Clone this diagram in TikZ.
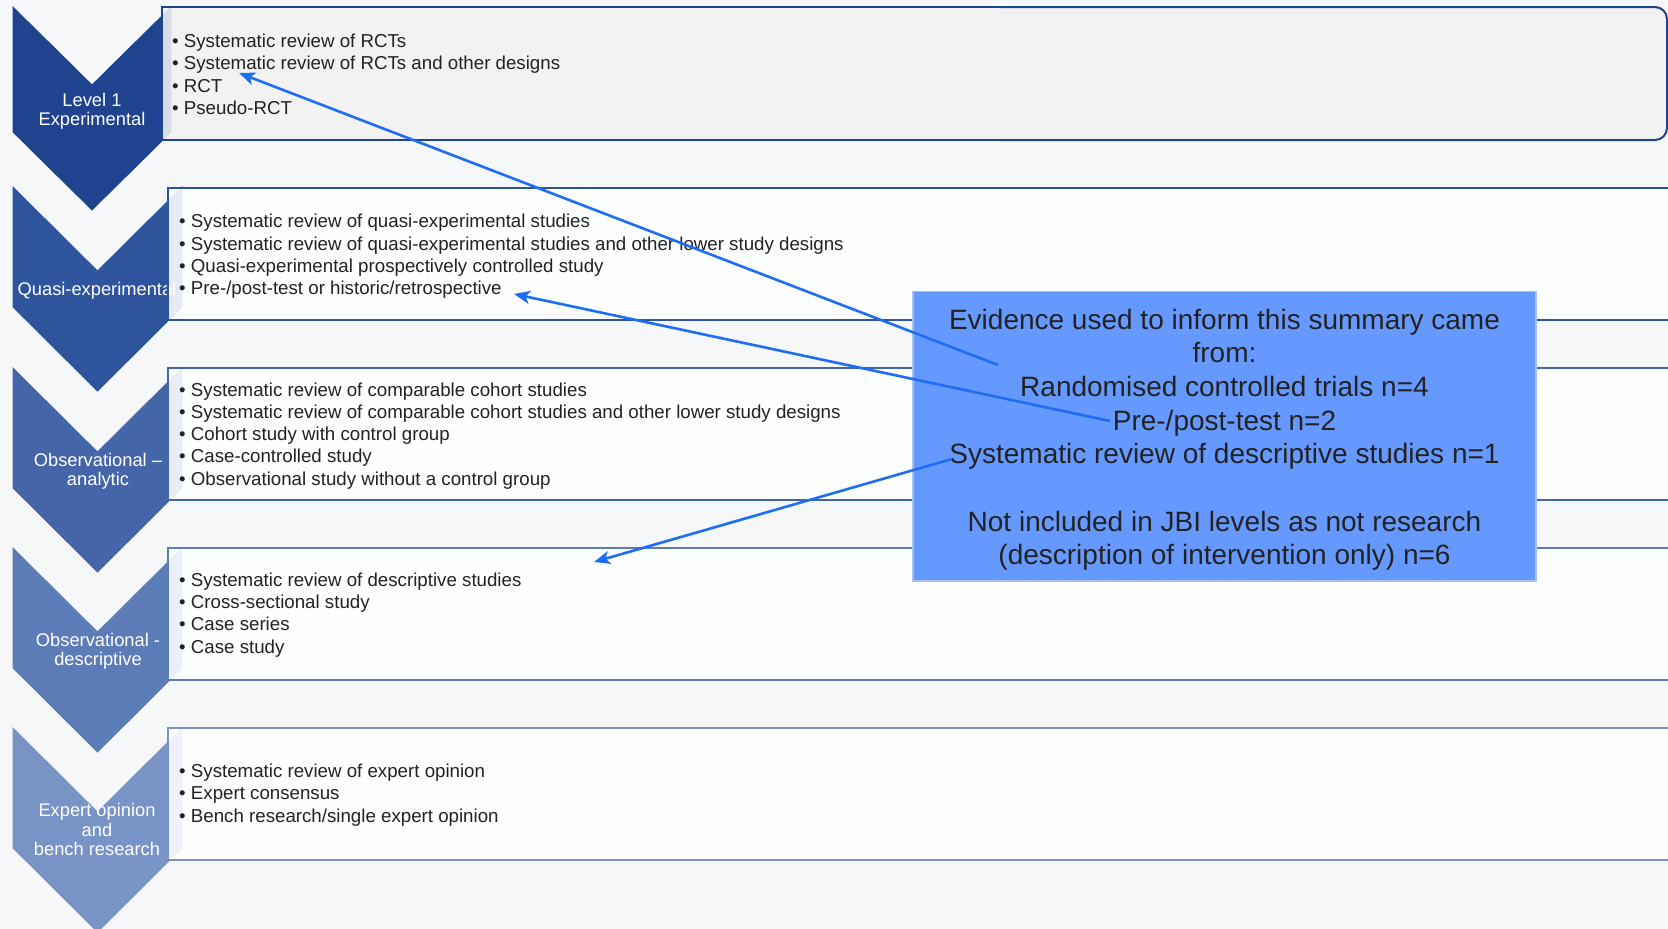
\documentclass[tikz,border=0pt]{standalone}
\usepackage{fontspec}
\setmainfont{Liberation Sans}
\usetikzlibrary{arrows.meta}
\definecolor{bg}{HTML}{F5F7F8}
\definecolor{cA}{HTML}{1F438F}
\definecolor{cB}{HTML}{2E549E}
\definecolor{cC}{HTML}{4466A8}
\definecolor{cD}{HTML}{5C7CB7}
\definecolor{cE}{HTML}{7893C5}
\definecolor{evblue}{HTML}{6699FF}
\definecolor{evedge}{HTML}{A9BFE6}
\definecolor{arrowblue}{HTML}{1E6EF5}
\definecolor{txt}{HTML}{222222}
\definecolor{boxonefill}{HTML}{F2F2F2}
\tikzset{
  chev/.style={fill=#1, draw=#1, line width=0.8pt, line join=miter},
  lvlbox/.style={draw=#1, line width=2pt},
  lbl/.style={text=white, align=center, font=\fontsize{18.3}{19.2}\selectfont, inner sep=0pt},
  items/.style={text=txt, align=left, anchor=west, font=\fontsize{18.7}{22.3}\selectfont, inner sep=0pt},
  evbox/.style={draw=evedge, fill=evblue, line width=1.5pt, inner sep=0pt,
    minimum width=623pt, minimum height=289.5pt},
  evtext/.style={text=txt, align=center, font=\fontsize{28}{33.7}\selectfont, inner sep=0pt},
  link/.style={draw=arrowblue, line width=2.6pt, -{Stealth[length=16pt,width=13pt,inset=4pt]}},
}
\begin{document}
\begin{tikzpicture}[x=1pt,y=-1pt]
\useasboundingbox (0,0) rectangle (1668,929);
\clip (0,0) rectangle (1668,929);
\fill[bg] (0,0) rectangle (1668,929);

% chevrons
\fill[chev=cA] (13,7) -- (92,85) -- (171,7) -- (171,132) -- (92,210) -- (13,132) -- cycle;
\foreach \yt/\c in {187/cB, 368/cC, 548/cD, 728/cE}{
  \fill[chev=\c] (13,\yt) -- (97.5,\yt+84) -- (182,\yt) -- (182,\yt+120) -- (97.5,\yt+204) -- (13,\yt+120) -- cycle;
}

% chevron labels
\node[lbl] (l1) at (92,111) {Level 1\\Experimental};
\node[lbl] (l2) at (97,291) {Quasi-experimental};
\node[lbl] (l3) at (98,471) {Observational –\\analytic};
\node[lbl] (l4) at (98,651) {Observational -\\descriptive};
\node[lbl] (l5) at (97,829.5) {Expert opinion\\and\\bench research};

% level boxes
\fill[boxonefill, fill opacity=0.88] (162,7) rectangle (1650,140);
\fill[boxonefill, rounded corners=12pt] (1640,7) rectangle (1667,140);
\draw[lvlbox=cA] (1000,7) -- (162,7) -- (162,140) -- (1000,140);
\draw[lvlbox=cA, rounded corners=12pt] (1000,7) -- (1667,7) -- (1667,140) -- (1000,140);
\foreach \yt/\c in {188/cB, 368/cC, 548/cD, 728/cE}{
  \fill[white, fill opacity=0.88] (168,\yt) rectangle (1700,\yt+132);
  \draw[lvlbox=\c] (168,\yt) rectangle (1700,\yt+132);
}

% box texts
\node[items] (t1) at (172,74.3) {• Systematic review of RCTs\\• Systematic review of RCTs and other designs\\• RCT\\• Pseudo-RCT};
\node[items] (t2) at (179,256.5) {• Systematic review of quasi-experimental studies\\• Systematic review of quasi-experimental studies and other lower study designs\\• Quasi-experimental prospectively controlled study\\• Pre-/post-test or historic/retrospective};
\node[items] (t3) at (179,435.8) {• Systematic review of comparable cohort studies\\• Systematic review of comparable cohort studies and other lower study designs\\• Cohort study with control group\\• Case-controlled study\\• Observational study without a control group};
\node[items] (t4) at (179,615) {• Systematic review of descriptive studies\\• Cross-sectional study\\• Case series\\• Case study};
\node[items] (t5) at (179,795) {• Systematic review of expert opinion\\• Expert consensus\\• Bench research/single expert opinion};

% evidence box
\node[evbox] (ev) at (1224.5,436.25) {};
\node[evtext] (evt) at (1224.5,439.8) {Evidence used to inform this summary came\\from:\\Randomised controlled trials n=4\\Pre-/post-test n=2\\Systematic review of descriptive studies n=1\\[33.7pt]Not included in JBI levels as not research\\(description of intervention only) n=6};

% arrows
\coordinate (s1) at (998,365);
\coordinate (s2) at (1110,421);
\coordinate (s3) at (952,459);
\coordinate (e1) at (239,73);
\coordinate (e2) at (514,294);
\coordinate (e3) at (594,562);
\draw[link] (s1) -- (e1);
\draw[link] (s2) -- (e2);
\draw[link] (s3) -- (e3);
\end{tikzpicture}
\end{document}
